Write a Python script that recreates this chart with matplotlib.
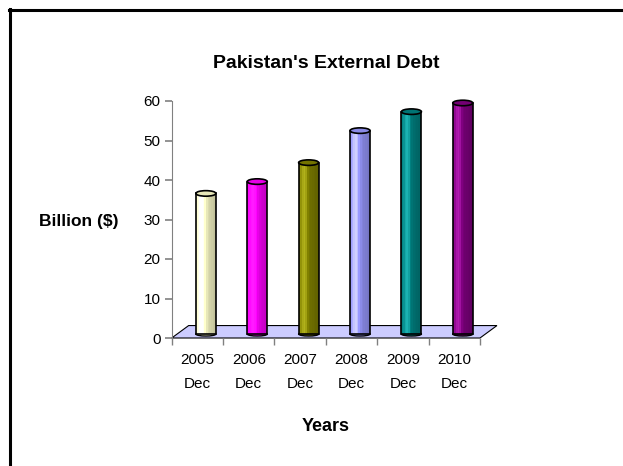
import matplotlib.pyplot as plt
import matplotlib.patches as mpatches
import matplotlib.colors as mcolors
import numpy as np

plt.rcParams['font.family'] = ['Liberation Sans', 'DejaVu Sans']

# data
years = ['2005\nDec', '2006\nDec', '2007\nDec', '2008\nDec', '2009\nDec', '2010\nDec']
debt = [35.6, 38.6, 43.4, 51.5, 56.3, 58.5]
colors = ['#FFFFCC', '#FF00FF', '#808000', '#9999FF', '#008080', '#800080']

W, H = 623, 466
fig = plt.figure(figsize=(W / 100, H / 100), dpi=100)
ax = fig.add_axes([171.7 / W, (H - 338) / H, (480 - 171.7) / W, (338 - 101) / H])

n = len(years)
x = np.arange(n)
ax.set_xlim(-0.5, n - 0.5)
ax.set_ylim(0, 60)

# fake 3d depth (category units / value units)
dx, dy = 0.33, 3.15
floor = mpatches.Polygon([(-0.5, 0), (n - 0.5, 0), (n - 0.5 + dx, dy), (-0.5 + dx, dy)],
                         closed=True, facecolor='#CCCCFF', edgecolor='black', lw=0.8,
                         clip_on=False, zorder=1)
ax.add_patch(floor)

bw = 0.39
base = 1.0
xs = x + dx / 2
for xi, v, c in zip(xs, debt, colors):
    rgb = np.array(mcolors.to_rgb(c))
    # cylinder body with simple shading strips
    nstrip = 12
    for k in range(nstrip):
        t = (k + 0.5) / nstrip
        shade = 1.0 + 0.25 * np.exp(-((t - 0.3) / 0.18) ** 2) - 0.25 * t
        col = np.clip(rgb * shade + (shade > 1) * (shade - 1) * 0.6, 0, 1)
        ax.bar(xi - bw / 2 + k * bw / nstrip, v, width=bw / nstrip, bottom=base,
               color=col, align='edge', lw=0, clip_on=False, zorder=2)
    ax.add_patch(mpatches.Rectangle((xi - bw / 2, base), bw, v, fill=False,
                                    edgecolor='black', lw=1.2, clip_on=False, zorder=3))
    cap = mpatches.Ellipse((xi, base + v), bw, 1.4, facecolor=np.clip(rgb * 0.9, 0, 1),
                           edgecolor='black', lw=1.2, clip_on=False, zorder=4)
    ax.add_patch(cap)
    bot = mpatches.Ellipse((xi, base), bw, 1.0, facecolor=rgb, edgecolor='black',
                           lw=1.0, clip_on=False, zorder=1.5)
    ax.add_patch(bot)

for s in ['top', 'right']:
    ax.spines[s].set_visible(False)
ax.spines['left'].set_color('#808080')
ax.spines['bottom'].set_visible(False)
ax.set_yticks(range(0, 61, 10))
ax.tick_params(axis='y', colors='#808080', labelcolor='black', labelsize=11,
               length=5, width=1.2, pad=3)
ax.set_xticks(np.arange(n + 1) - 0.5, minor=True)
ax.set_xticks(x)
ax.set_xticklabels(years, fontsize=11, linespacing=1.85)
ax.tick_params(axis='x', which='major', length=0, pad=11)
ax.tick_params(axis='x', which='minor', length=5, width=1, colors='#808080')

ax.set_title("Pakistan's External Debt", fontsize=14, fontweight='bold', pad=24)
ax.set_xlabel('Years', fontsize=13, fontweight='bold', labelpad=20)
ax.set_ylabel('Billion ($)', fontsize=12.5, fontweight='bold', rotation=0,
              va='center', ha='center')
ax.yaxis.set_label_coords(-0.3, 0.49)
ax.patch.set_alpha(0)

# outer frame (only top and left edges visible)
fig.add_artist(plt.Line2D([9 / W, 1], [1 - 9.5 / H, 1 - 9.5 / H], color='black', lw=2.2))
fig.add_artist(plt.Line2D([9.5 / W, 9.5 / W], [0, 1 - 8.5 / H], color='black', lw=2.2))

fig.savefig('out.png', dpi=100)
